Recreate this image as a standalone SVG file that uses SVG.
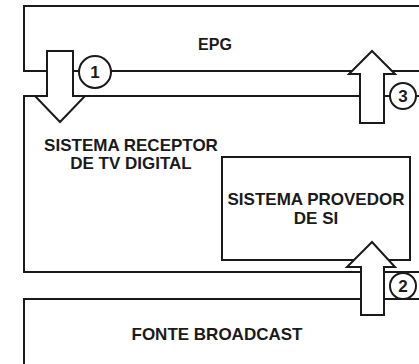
<svg xmlns="http://www.w3.org/2000/svg" width="419" height="364" viewBox="0 0 419 364">
<style>
.box{fill:none;stroke:#1a1a1a;stroke-width:2}
.arr{fill:#fff;stroke:#1a1a1a;stroke-width:2;stroke-linejoin:miter}
.num{fill:#fff;stroke:#1a1a1a;stroke-width:2}
.t{font-family:"Liberation Sans",Arial,sans-serif;font-weight:bold;fill:#1a1a1a;text-anchor:middle}
</style>
<rect width="419" height="364" fill="#fff"/>
<g id="epg">
<rect class="box" x="24" y="6" width="420" height="65"/>
<text class="t" x="215" y="50" font-size="16">EPG</text>
</g>
<g id="receptor">
<rect class="box" x="24" y="96" width="420" height="176"/>
<text class="t" x="131" y="151" font-size="17">SISTEMA RECEPTOR</text>
<text class="t" x="131" y="169" font-size="17">DE TV DIGITAL</text>
</g>
<g id="provedor">
<rect class="box" x="222" y="157" width="188" height="103"/>
<text class="t" x="316" y="205" font-size="17">SISTEMA PROVEDOR</text>
<text class="t" x="316" y="224" font-size="17">DE SI</text>
</g>
<g id="fonte">
<rect class="box" x="24" y="299" width="420" height="70"/>
<text class="t" x="217" y="340" font-size="17">FONTE BROADCAST</text>
</g>
<g id="connectors">
<polygon class="arr" points="47,51 73,51 73,96 85,96 60,122 35,96 47,96"/>
<polygon class="arr" points="360,123 384,123 384,74 395,74 372,51 349,74 360,74"/>
<polygon class="arr" points="361,315 384,315 384,267 395,267 372,242 347,267 361,267"/>
</g>
<g id="label1">
<circle class="num" cx="95" cy="72" r="16"/>
<text class="t" x="95" y="78" font-size="17">1</text>
</g>
<g id="label3">
<circle class="num" cx="403" cy="96" r="13"/>
<text class="t" x="403" y="102" font-size="17">3</text>
</g>
<g id="label2">
<circle class="num" cx="403" cy="286" r="13"/>
<text class="t" x="403" y="292" font-size="17">2</text>
</g>
</svg>
